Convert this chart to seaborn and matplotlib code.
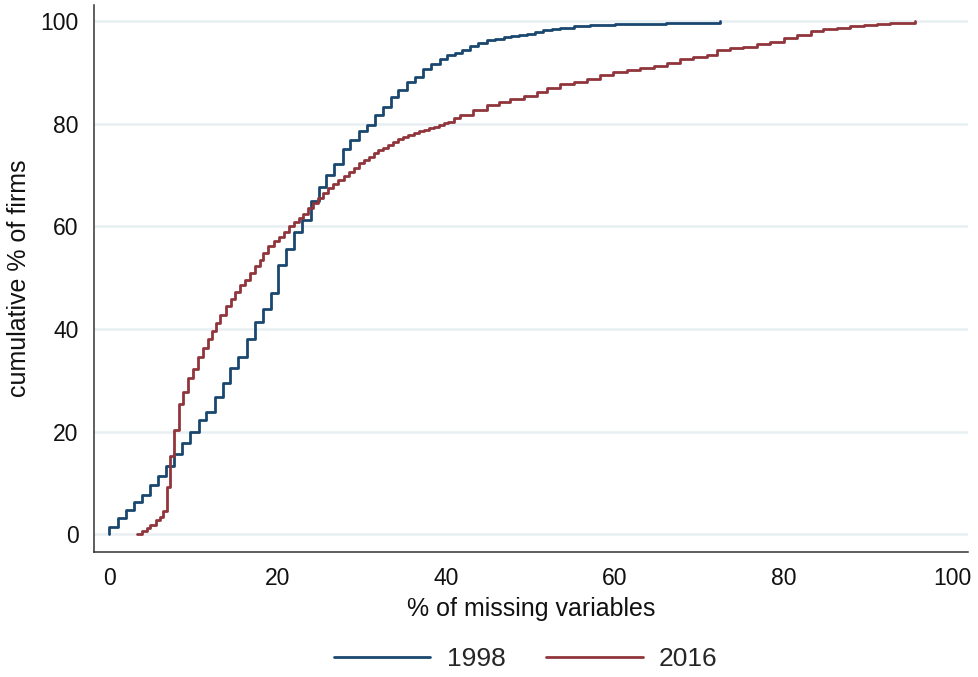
import matplotlib
matplotlib.use("Agg")
import matplotlib.pyplot as plt
import seaborn as sns
import pandas as pd

# step positions (% missing) and cumulative % after each step
x_1998 = [0, 0, 1.0, 2.0, 2.97, 3.9, 4.86, 5.85, 6.76, 7.7, 8.6, 9.6, 10.6, 11.5, 12.5,
          13.5, 14.35, 15.3, 16.3, 17.3, 18.2, 19.2, 20.0, 21.0, 21.9, 22.9, 23.9, 24.9,
          25.7, 26.7, 27.7, 28.6, 29.6, 30.6, 31.5, 32.5, 33.4, 34.3, 35.3, 36.3, 37.2,
          38.2, 39.2, 40.1, 41.0, 41.8, 42.8, 43.8, 44.8, 45.8, 46.8, 47.7, 48.6, 49.6,
          50.5, 51.5, 52.5, 53.5, 55.1, 57.0, 60.0, 63.0, 66.0, 68.5, 72.5]
y_1998 = [0, 1.4, 3.2, 4.7, 6.2, 7.6, 9.7, 11.3, 13.3, 15.6, 17.8, 20.0, 22.2, 23.8, 26.7,
          29.5, 32.4, 34.5, 38.1, 41.3, 43.9, 47.1, 52.4, 55.6, 58.9, 61.3, 65.0, 67.6,
          70.0, 72.2, 75.0, 76.8, 78.5, 79.8, 81.7, 83.3, 85.2, 86.6, 88.2, 89.2, 90.6,
          91.6, 92.6, 93.4, 93.8, 94.4, 95.1, 95.8, 96.3, 96.6, 96.9, 97.1, 97.3, 97.5,
          97.9, 98.2, 98.5, 98.7, 99.0, 99.2, 99.4, 99.5, 99.6, 99.7, 100]

x_2016 = [3.3, 3.9, 4.5, 4.9, 5.5, 6.0, 6.4, 6.84, 7.24, 7.7, 8.3, 8.74, 9.3, 9.9, 10.5,
          11.1, 11.7, 12.2, 12.7, 13.2, 13.9, 14.4, 14.9, 15.5, 16.1, 16.7, 17.3, 17.9,
          18.3, 18.9, 19.5, 20.1, 20.7, 21.3, 21.9, 22.5, 23.0, 23.6, 24.2, 24.8, 25.4,
          26.0, 26.6, 27.2, 27.8, 28.4, 29.0, 29.6, 30.2, 30.8, 31.4, 31.9, 32.5, 33.1,
          33.7, 34.3, 34.9, 35.5, 36.1, 36.7, 37.3, 37.9, 38.5, 39.1, 39.7, 40.2, 40.9,
          41.6, 43.2, 44.8, 46.2, 47.6, 49.2, 50.7, 51.9, 53.5, 55.1, 56.7, 58.2, 59.8,
          61.4, 63.0, 64.6, 66.2, 67.7, 69.3, 70.9, 72.1, 73.7, 75.2, 76.8, 78.4, 80.0,
          81.6, 83.2, 84.7, 86.3, 87.9, 89.5, 91.1, 92.6, 95.6]
y_2016 = [0, 0.65, 1.3, 1.9, 2.8, 3.4, 4.5, 9.2, 15.2, 20.3, 25.3, 27.7, 30.5, 32.2, 34.6,
          36.3, 38.1, 39.6, 41.2, 42.8, 44.4, 45.9, 47.3, 48.6, 49.6, 50.9, 52.2, 53.5,
          54.8, 56.1, 57.1, 58.0, 59.0, 60.0, 60.8, 61.6, 62.5, 63.6, 64.5, 65.5, 66.5,
          67.4, 68.3, 69.1, 69.8, 70.7, 71.3, 72.3, 73.0, 73.6, 74.3, 74.8, 75.2, 75.9,
          76.5, 77.0, 77.5, 77.8, 78.2, 78.5, 78.8, 79.1, 79.4, 79.8, 80.1, 80.4, 81.1,
          81.8, 82.7, 83.7, 84.3, 84.8, 85.5, 86.1, 87.0, 87.7, 88.2, 88.8, 89.5, 90.0,
          90.5, 90.8, 91.3, 91.9, 92.6, 93.1, 93.5, 94.4, 94.7, 95.0, 95.5, 96.0, 96.8,
          97.3, 98.1, 98.4, 98.7, 99.0, 99.2, 99.4, 99.7, 100]

years = ["1998", "2016"]
colors = ["#1a476f", "#90353b"]
ticks = [0, 20, 40, 60, 80, 100]

df = pd.concat([
    pd.DataFrame({"missing": x_1998, "cum": y_1998, "year": years[0]}),
    pd.DataFrame({"missing": x_2016, "cum": y_2016, "year": years[1]}),
], ignore_index=True)

sns.set_style("white")
plt.rcParams["font.family"] = ["Liberation Sans", "DejaVu Sans"]

fig = plt.figure(figsize=(9.79, 6.77), dpi=100)
ax = fig.add_axes([0.096, 0.185, 0.893, 0.808])

sns.lineplot(data=df, x="missing", y="cum", hue="year", palette=colors,
             estimator=None, sort=False, drawstyle="steps-post", linewidth=2.0,
             ax=ax, legend=False)

ax.set_xlim(-1.8, 101.9)
ax.set_ylim(-3.4, 103.2)
ax.set_xticks(ticks)
ax.set_yticks(ticks)
ax.yaxis.grid(True, color="#e8eff2", linewidth=1.8)
ax.set_axisbelow(True)
for s in ["top", "right"]:
    ax.spines[s].set_visible(False)
for s in ["left", "bottom"]:
    ax.spines[s].set_color("#333333")
    ax.spines[s].set_linewidth(1.1)
ax.tick_params(direction="out", length=7, width=1.1, color="#333333",
               labelsize=16.5, labelcolor="#111111", pad=4)
ax.set_xlabel("% of missing variables", fontsize=18, color="#111111", labelpad=5)
ax.set_ylabel("cumulative % of firms", fontsize=18, color="#111111", labelpad=7)

handles = [plt.Line2D([], [], color=c, linewidth=2.0) for c in colors]
fig.legend(handles, years, loc="center", bbox_to_anchor=(0.537, 0.026), ncol=2,
           frameon=False, fontsize=19, handlelength=3.65, handletextpad=0.62,
           columnspacing=1.55)

fig.savefig("out.png", dpi=100)
